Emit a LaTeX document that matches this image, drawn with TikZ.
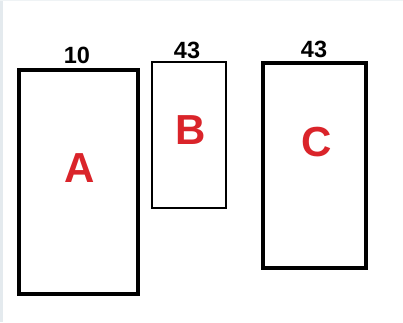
\documentclass[tikz,border=0pt]{standalone}
\usepackage{fontspec}
\setmainfont{Liberation Sans}
\definecolor{lbl}{RGB}{218,36,42}
\definecolor{edge}{RGB}{228,234,238}
\begin{document}
\begin{tikzpicture}[x=1pt,y=-1pt,
  thick box/.style={draw=black,line width=4pt},
  thin box/.style={draw=black,line width=2pt},
  num/.style={font=\bfseries\fontsize{23.5}{23.5}\selectfont,inner sep=0pt},
  letter/.style={font=\bfseries\fontsize{42}{42}\selectfont,text=lbl,inner sep=0pt}]
\useasboundingbox (0,0) rectangle (403,322);
\fill[white] (0,0) rectangle (403,322);
\fill[edge] (0,0) rectangle (3,322);
\fill[edge!60] (0,0) rectangle (403,1);
\draw[thick box] (18.5,70) rectangle (137.5,294);
\draw[thin box] (152,62) rectangle (226,208);
\draw[thick box] (262.5,62.5) rectangle (365.5,267.5);
\node[num] (n1) at (77,55) {10};
\node[num] (n2) at (187,50) {43};
\node[num] (n3) at (314,49) {43};
\node[letter] (A) at (80,168) {A};
\node[letter] (B) at (191,130) {B};
\node[letter] (C) at (317,142) {C};
\end{tikzpicture}
\end{document}
